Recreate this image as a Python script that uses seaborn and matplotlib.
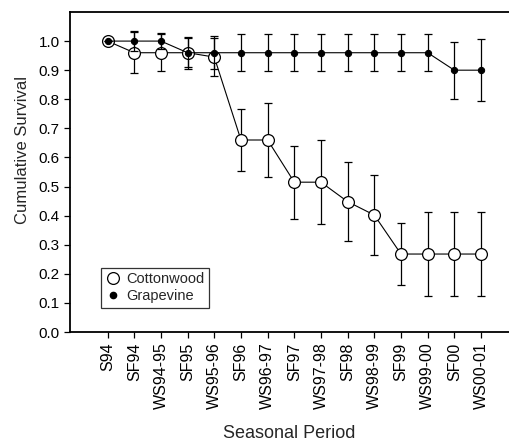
import matplotlib
matplotlib.use("Agg")
import matplotlib.pyplot as plt
import numpy as np
import pandas as pd
import seaborn as sns
from matplotlib.lines import Line2D

periods = ["S94", "SF94", "WS94-95", "SF95", "WS95-96", "SF96", "WS96-97",
           "SF97", "WS97-98", "SF98", "WS98-99", "SF99", "WS99-00", "SF00",
           "WS00-01"]
cottonwood = [1.0, 0.96, 0.96, 0.96, 0.945, 0.66, 0.66, 0.515, 0.515,
              0.448, 0.402, 0.268, 0.268, 0.268, 0.268]
cottonwood_err = [0.0, 0.07, 0.063, 0.05, 0.065, 0.107, 0.128, 0.125, 0.144,
                  0.136, 0.138, 0.107, 0.143, 0.143, 0.143]
grapevine = [1.0, 1.0, 1.0, 0.96, 0.96, 0.96, 0.96, 0.96, 0.96, 0.96,
             0.96, 0.96, 0.96, 0.90, 0.90]
grapevine_err = [0.0, 0.034, 0.027, 0.055, 0.056, 0.063, 0.063, 0.063, 0.063,
                 0.063, 0.063, 0.063, 0.063, 0.098, 0.107]

sns.set_style("ticks")
plt.rcParams["font.family"] = ["Liberation Sans", "DejaVu Sans"]

df = pd.DataFrame({
    "pos": np.tile(np.arange(len(periods)), 2),
    "survival": cottonwood + grapevine,
    "species": ["Cottonwood"] * len(periods) + ["Grapevine"] * len(periods),
})

fig = plt.figure(figsize=(5.09, 4.45), dpi=100)
ax = fig.add_axes([70 / 509, 113 / 445, 1 - 70 / 509, 320 / 445])

x = np.arange(len(periods))
ax.errorbar(x, cottonwood, yerr=cottonwood_err, fmt="none", ecolor="black",
            elinewidth=0.9, capsize=3, capthick=0.9, zorder=2)
sns.lineplot(data=df[df.species == "Cottonwood"], x="pos", y="survival",
             color="black", linewidth=0.8, marker="o", markersize=8.5,
             markerfacecolor="white", markeredgecolor="black",
             markeredgewidth=0.9, ax=ax, zorder=3, legend=False)
ax.errorbar(x, grapevine, yerr=grapevine_err, fmt="none", ecolor="black",
            elinewidth=0.9, capsize=3, capthick=0.9, zorder=4)
sns.lineplot(data=df[df.species == "Grapevine"], x="pos", y="survival",
             color="black", linewidth=0.8, marker="o", markersize=4.5,
             markerfacecolor="black", markeredgecolor="black",
             ax=ax, zorder=5, legend=False)

ax.set_xlim(-1.41, 15.05)
ax.set_ylim(0, 1.10)
ax.set_xticks(x)
ax.set_xticklabels(periods, rotation=90, fontsize=11.5)
ax.set_yticks(np.arange(0, 1.01, 0.1))
ax.set_yticklabels([f"{v:.1f}" for v in np.arange(0, 1.01, 0.1)], fontsize=11)
ax.tick_params(axis="both", direction="out", length=4, width=0.9,
               color="black", labelcolor="black")
ax.set_xlabel("Seasonal Period", fontsize=13)
ax.set_ylabel("Cumulative Survival", fontsize=12)
ax.xaxis.set_label_coords(0.5, -0.29)
ax.yaxis.set_label_coords(-0.09, 0.57)

for side in ["left", "bottom", "top"]:
    ax.spines[side].set_visible(True)
    ax.spines[side].set_linewidth(1.3)
    ax.spines[side].set_color("black")
ax.spines["right"].set_visible(False)

handles = [
    Line2D([], [], linestyle="none", marker="o", markersize=8.5,
           markerfacecolor="white", markeredgecolor="black",
           markeredgewidth=0.9, label="Cottonwood"),
    Line2D([], [], linestyle="none", marker="o", markersize=4.5,
           markerfacecolor="black", markeredgecolor="black",
           label="Grapevine"),
]
leg = ax.legend(handles=handles, loc="upper left",
                bbox_to_anchor=(0.071, 0.2), borderaxespad=0, fontsize=10.5,
                frameon=True, fancybox=False, handletextpad=0.4,
                handlelength=1.0, borderpad=0.3, labelspacing=0.2)
leg.get_frame().set_edgecolor("black")
leg.get_frame().set_linewidth(0.9)

fig.savefig("out.png", dpi=100)
